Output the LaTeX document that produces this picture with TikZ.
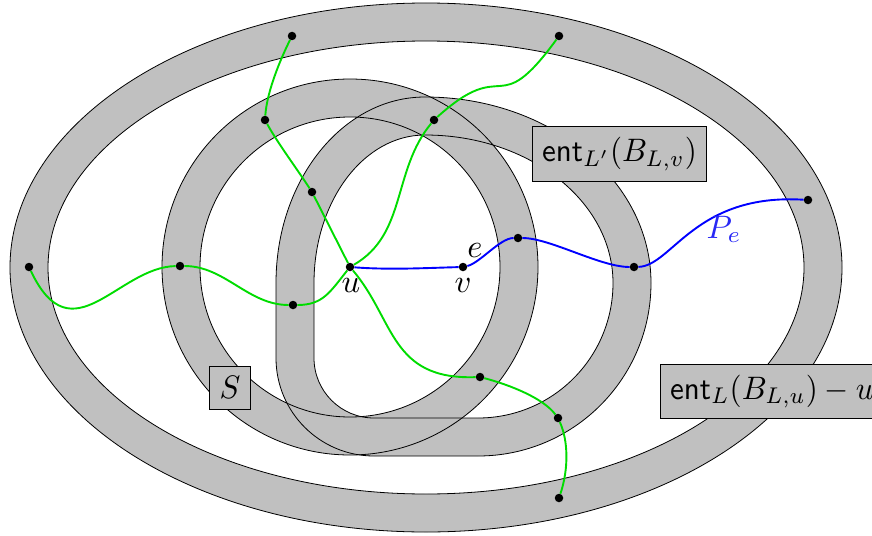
\documentclass[tikz,border=0pt]{standalone}
\definecolor{ringgray}{RGB}{192,192,192}
\definecolor{pgreen}{RGB}{0,220,0}
\definecolor{pblue}{RGB}{0,0,255}
\definecolor{peblue}{RGB}{40,40,245}
\newcommand{\ringStadOuter}{(276,283) arc[start angle=180,end angle=270,x radius=149,y radius=186] arc[start angle=270,end angle=360,x radius=226,y radius=186] arc[start angle=0,end angle=90,radius=173] -- (374,456) arc[start angle=90,end angle=180,radius=98] -- cycle}
\newcommand{\ringStadInner}{(314,283) arc[start angle=180,end angle=270,x radius=111,y radius=148] arc[start angle=270,end angle=360,x radius=188,y radius=148] arc[start angle=0,end angle=90,radius=135] -- (374,418) arc[start angle=90,end angle=180,radius=60] -- cycle}
\begin{document}
\begin{tikzpicture}[x=1pt,y=-1pt,
  ringfill/.style={fill=ringgray, even odd rule},
  ringline/.style={draw=black, line width=0.8pt},
  dot/.style={circle, fill=black, inner sep=0pt, minimum size=8.5pt},
  gpath/.style={draw=pgreen, line width=1.9pt},
  bpath/.style={draw=pblue, line width=1.9pt},
  lbl/.style={inner sep=0pt, scale=3.25},
  labbox/.style={draw=black, fill=ringgray, line width=0.8pt, inner sep=3.2pt, xscale=3.1, yscale=3.25}]
\useasboundingbox (0,0) rectangle (872,535);
% ring fills
\fill[ringfill] (426,267.5) ellipse [x radius=416, y radius=264.5] (426,267.5) ellipse [x radius=378, y radius=226.5];
\fill[ringfill] (350,267) circle [radius=188] (350,267) circle [radius=150];
\fill[ringfill] \ringStadOuter \ringStadInner;
% ring outlines
\draw[ringline] (426,267.5) ellipse [x radius=416, y radius=264.5];
\draw[ringline] (426,267.5) ellipse [x radius=378, y radius=226.5];
\draw[ringline] (350,267) circle [radius=188];
\draw[ringline] (350,267) circle [radius=150];
\draw[ringline] \ringStadOuter;
\draw[ringline] \ringStadInner;
% boxes
\node[labbox, anchor=west] (entv) at (531,154) {$\mathsf{ent}_{L'}(B_{L,v})$};
\node[labbox, anchor=west] (entu) at (659,391.5) {$\mathsf{ent}_{L}(B_{L,u})-u$};
\node[labbox] (S) at (230,387.5) {$S$};
% dots
\node[dot] (u) at (350,267) {};
\node[dot] (v) at (463,267) {};
\node[dot] (b1) at (518,238) {};
\node[dot] (b2) at (634,267) {};
\node[dot] (b3) at (808,200) {};
\node[dot] (g1a) at (312,192) {};
\node[dot] (g1b) at (265,120) {};
\node[dot] (g1c) at (292,36) {};
\node[dot] (g2a) at (434,120) {};
\node[dot] (g2b) at (559,36) {};
\node[dot] (g3a) at (293,305) {};
\node[dot] (g3b) at (180,266) {};
\node[dot] (g3c) at (29,267) {};
\node[dot] (g4a) at (480,377) {};
\node[dot] (g4b) at (558,418) {};
\node[dot] (g4c) at (559,498) {};
% green paths
\draw[gpath] (u) -- (g1a) .. controls +(-15,-23) and +(12,22) .. (g1b) .. controls +(2,-30) and +(-10,20) .. (g1c);
\draw[gpath] (u) .. controls +(57,-33) and +(-42,51) .. (g2a) .. controls +(73,-66) and +(-63.5,87) .. (g2b);
\draw[gpath] (u) .. controls +(-20,25) and +(30,0) .. (g3a) .. controls +(-45,0) and +(45,0) .. (g3b) .. controls +(-62,1) and +(43,91) .. (g3c);
\draw[gpath] (u) .. controls +(45,53) and +(-90,3) .. (g4a) .. controls +(30,8) and +(-15,-20) .. (g4b) .. controls +(10,22) and +(10,-30) .. (g4c);
% blue path
\draw[bpath] (u) .. controls +(40,3) and +(-38,1) .. (v) .. controls +(17,-4) and +(-18,0) .. (b1) .. controls +(32,0) and +(-34,0) .. (b2) .. controls +(38,-1) and +(-113,-7) .. (b3);
% labels
\node[lbl, anchor=base] (lu) at (351,292) {$u$};
\node[lbl, anchor=base] (lv) at (463,292) {$v$};
\node[lbl, anchor=base] (le) at (475,257) {$e$};
\node[lbl, anchor=base west, text=peblue] (lpe) at (706,238) {$P_e$};
\end{tikzpicture}
\end{document}
